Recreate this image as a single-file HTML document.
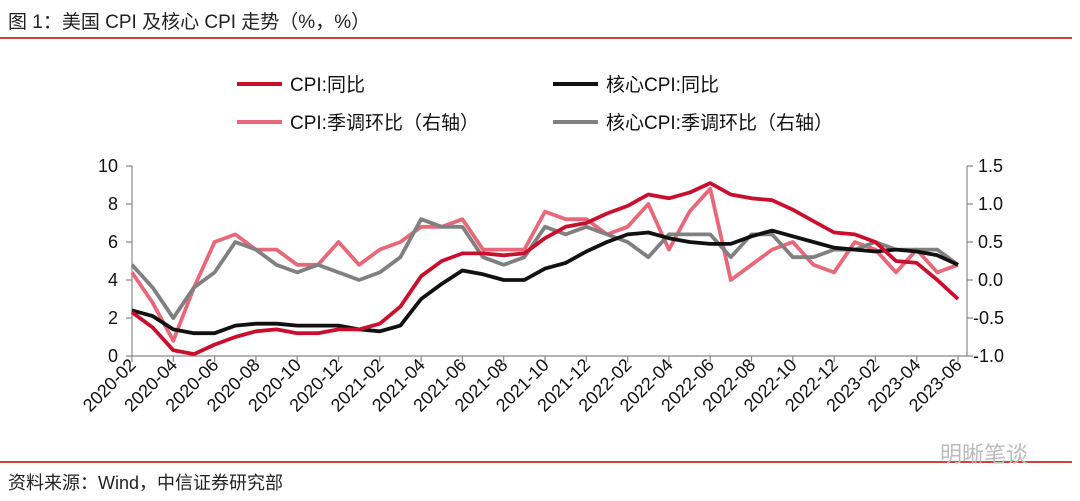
<!DOCTYPE html>
<html><head><meta charset="utf-8"><style>
html,body{margin:0;padding:0;background:#fff;}
svg{display:block;font-family:"Liberation Sans","Noto Sans CJK SC",sans-serif;}
</style></head><body>
<svg id="s" width="1080" height="501" viewBox="0 0 1080 501">
<text x="8" y="28" font-size="19" fill="#222">图 1：美国 CPI 及核心 CPI 走势（%，%）</text>
<line x1="0" y1="38" x2="1072" y2="38" stroke="#c00000" stroke-width="1.5"/>
<line x1="0" y1="462" x2="1072" y2="462" stroke="#c00000" stroke-width="1.5"/>
<text x="8" y="489" font-size="18" fill="#222">资料来源：Wind，中信证券研究部</text>
<text x="940" y="462" font-size="22" fill="#bbb">明晰笔谈</text>
<line x1="237" y1="84" x2="282" y2="84" stroke="#c8102e" stroke-width="4"/>
<text x="290" y="91" font-size="19" fill="#111">CPI:同比</text>
<line x1="553" y1="84" x2="598" y2="84" stroke="#111" stroke-width="4"/>
<text x="606" y="91" font-size="19" fill="#111">核心CPI:同比</text>
<line x1="237" y1="122" x2="282" y2="122" stroke="#e8687a" stroke-width="4"/>
<text x="290" y="129" font-size="19" fill="#111">CPI:季调环比（右轴）</text>
<line x1="553" y1="122" x2="598" y2="122" stroke="#808080" stroke-width="4"/>
<text x="606" y="129" font-size="19" fill="#111">核心CPI:季调环比（右轴）</text>
<g stroke="#888" stroke-width="1.2" fill="none">
<line x1="132" y1="166" x2="132" y2="356"/>
<line x1="132" y1="356" x2="967" y2="356"/>
<line x1="967" y1="166" x2="967" y2="356"/>
<path d="M126 166H132M126 204H132M126 242H132M126 280H132M126 318H132M126 356H132"/>
<path d="M967 166H973M967 204H973M967 242H973M967 280H973M967 318H973M967 356H973"/>
<path id="xt"/>
</g>
<g font-size="18" fill="#111" text-anchor="end">
<text x="118" y="172">10</text><text x="118" y="210">8</text><text x="118" y="248">6</text>
<text x="118" y="286">4</text><text x="118" y="324">2</text><text x="118" y="362">0</text>
</g>
<g font-size="18" fill="#111">
<text x="978" y="172">1.5</text><text x="978" y="210">1.0</text><text x="978" y="248">0.5</text>
<text x="978" y="286">0.0</text><text x="973" y="324">-0.5</text><text x="973" y="362">-1.0</text>
</g>
<g font-size="18" fill="#111" text-anchor="end">
<text transform="translate(136,368) rotate(-45)">2020-02</text>
<text transform="translate(218.6,368) rotate(-45)">2020-04</text>
<text transform="translate(301.2,368) rotate(-45)">2020-06</text>
<text transform="translate(383.8,368) rotate(-45)">2020-08</text>
<text transform="translate(466.4,368) rotate(-45)">2020-10</text>
<text transform="translate(549,368) rotate(-45)">2020-12</text>
<text transform="translate(631.6,368) rotate(-45)">2021-02</text>
<text transform="translate(714.2,368) rotate(-45)">2021-04</text>
<text transform="translate(796.8,368) rotate(-45)">2021-06</text>
<text transform="translate(879.4,368) rotate(-45)">2021-08</text>
<text transform="translate(962,368) rotate(-45)">2021-10</text>
</g>
<g id="lines" fill="none" stroke-width="3.8" stroke-linejoin="round"></g>
</svg>
<script>
var x0=132,dx=20.65;
var g=document.querySelectorAll('g[text-anchor="end"]')[1];
var labs=[];for(var i=0;i<=40;i+=2){var m=2+i,y=2020+Math.floor((m-1)/12),mo=((m-1)%12)+1;labs.push([i,y+'-'+(mo<10?'0':'')+mo]);}
var ts=g.querySelectorAll('text');
labs.forEach(function(l,k){var t=ts[k];if(!t){t=document.createElementNS('http://www.w3.org/2000/svg','text');g.appendChild(t);}
t.textContent=l[1];t.setAttribute('transform','translate('+(x0+l[0]*dx+5)+',366) rotate(-45)');});
var d='';for(var i=0;i<=40;i+=2){d+='M'+(x0+i*dx)+' 356V362';}document.getElementById('xt').setAttribute('d',d);
var cpi=[2.3,1.5,0.3,0.1,0.6,1.0,1.3,1.4,1.2,1.2,1.4,1.4,1.7,2.6,4.2,5.0,5.4,5.4,5.3,5.4,6.2,6.8,7.0,7.5,7.9,8.5,8.3,8.6,9.1,8.5,8.3,8.2,7.7,7.1,6.5,6.4,6.0,5.0,4.9,4.0,3.0];
var core=[2.4,2.1,1.4,1.2,1.2,1.6,1.7,1.7,1.6,1.6,1.6,1.4,1.3,1.6,3.0,3.8,4.5,4.3,4.0,4.0,4.6,4.9,5.5,6.0,6.4,6.5,6.2,6.0,5.9,5.9,6.3,6.6,6.3,6.0,5.7,5.6,5.5,5.6,5.5,5.3,4.8];
var mom=[0.1,-0.3,-0.8,-0.1,0.5,0.6,0.4,0.4,0.2,0.2,0.5,0.2,0.4,0.5,0.7,0.7,0.8,0.4,0.4,0.4,0.9,0.8,0.8,0.6,0.7,1.0,0.4,0.9,1.2,0.0,0.2,0.4,0.5,0.2,0.1,0.5,0.4,0.1,0.4,0.1,0.2];
var cmom=[0.2,-0.1,-0.5,-0.1,0.1,0.5,0.4,0.2,0.1,0.2,0.1,0.0,0.1,0.3,0.8,0.7,0.7,0.3,0.2,0.3,0.7,0.6,0.7,0.6,0.5,0.3,0.6,0.6,0.6,0.3,0.6,0.6,0.3,0.3,0.4,0.4,0.5,0.4,0.4,0.4,0.2];
function pl(a,f,c){var p=a.map(function(v,i){return (x0+i*dx).toFixed(1)+','+f(v).toFixed(1)}).join(' ');
var e=document.createElementNS('http://www.w3.org/2000/svg','polyline');e.setAttribute('points',p);e.setAttribute('stroke',c);document.getElementById('lines').appendChild(e);}
var L=function(v){return 356-v*19},R=function(v){return 356-(v+1)*76};
pl(mom,R,'#e8687a');pl(cmom,R,'#808080');pl(core,L,'#111');pl(cpi,L,'#c8102e');
</script>
</body></html>
